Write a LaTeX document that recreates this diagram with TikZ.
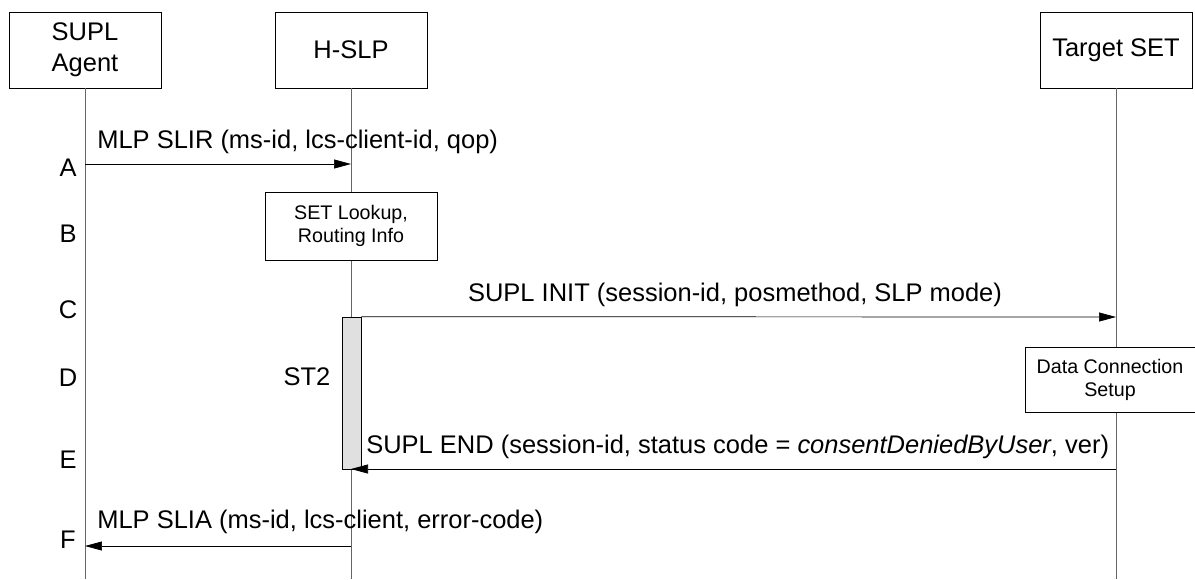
\documentclass[tikz,border=0pt]{standalone}
\usepackage{fontspec}
\setmainfont{Liberation Sans}
\usetikzlibrary{arrows.meta}

\begin{document}
\begin{tikzpicture}[
    x=0.02cm, y=-0.02cm,
    actor/.style={draw, minimum width=3.04cm, minimum height=1.52cm, align=center, font=\fontsize{14.5}{17.5}\selectfont},
    action/.style={draw, fill=white, align=center, font=\fontsize{11.2}{13.5}\selectfont},
    msg/.style={font=\fontsize{14.5}{17}\selectfont, inner sep=0pt},
    lifeline/.style={draw=black!60},
    arrow/.style={-{Triangle[length=0.34cm, width=0.18cm]}, black},
]
\useasboundingbox (0,0) rectangle (1195,579);

% Actors
\node[actor] (agent) at (85, 50) {SUPL\\Agent};
\node[actor] (hslp) at (351, 50) {H-SLP};
\node[actor] (set) at (1116, 50) {Target SET};

% Lifeline ends
\coordinate (agentend) at (85, 579);
\coordinate (hslpend) at (351, 579);
\coordinate (setend) at (1116, 579);

\draw[lifeline] (agent) -- (agentend);
\draw[lifeline] (hslp) -- (hslpend);
\draw[lifeline] (set) -- (setend);

% Step letters
\node[msg] (stepA) at (68, 168) {A};
\node[msg] (stepB) at (68, 234) {B};
\node[msg] (stepC) at (68, 310) {C};
\node[msg] (stepD) at (68, 378) {D};
\node[msg] (stepE) at (68, 460) {E};
\node[msg] (stepF) at (68, 540) {F};

% Step A
\coordinate (agentA) at (85, 164);
\coordinate (hslpA) at (351, 164);
\draw[arrow] (agentA) -- (hslpA);
\node[msg, anchor=west] (msgA) at (97, 142) {MLP SLIR (ms-id, lcs-client-id, qop)};

% Step B
\node[action, minimum width=3.44cm, minimum height=1.36cm] (lookup) at (351, 226) {SET Lookup,\\Routing Info};

% ST2 timer
\node[draw, fill=black!12, minimum width=0.38cm, minimum height=3.04cm, inner sep=0pt] (st2bar) at (351.5, 393) {};
\node[msg] (st2) at (307, 377) {ST2};

% Step C
\coordinate (setC) at (1116, 317);
\draw[arrow] (st2bar.north east) -- (setC);
\node[msg] (msgC) at (735, 295) {SUPL INIT (session-id, posmethod, SLP mode)};

% Step D
\node[action, minimum width=3.4cm, minimum height=1.3cm] (datasetup) at (1110, 380) {Data Connection\\Setup};

% Step E
\coordinate (setE) at (1116, 469);
\coordinate (hslpE) at (351, 469);
\draw[arrow] (setE) -- (hslpE);
\node[msg, anchor=west] (msgE) at (366, 447) {SUPL END (session-id, status code = \textit{consentDeniedByUser}, ver)};

% Step F
\coordinate (hslpF) at (351, 546);
\coordinate (agentF) at (85, 546);
\draw[arrow] (hslpF) -- (agentF);
\node[msg, anchor=west] (msgF) at (97, 522) {MLP SLIA (ms-id, lcs-client, error-code)};

\end{tikzpicture}
\end{document}
